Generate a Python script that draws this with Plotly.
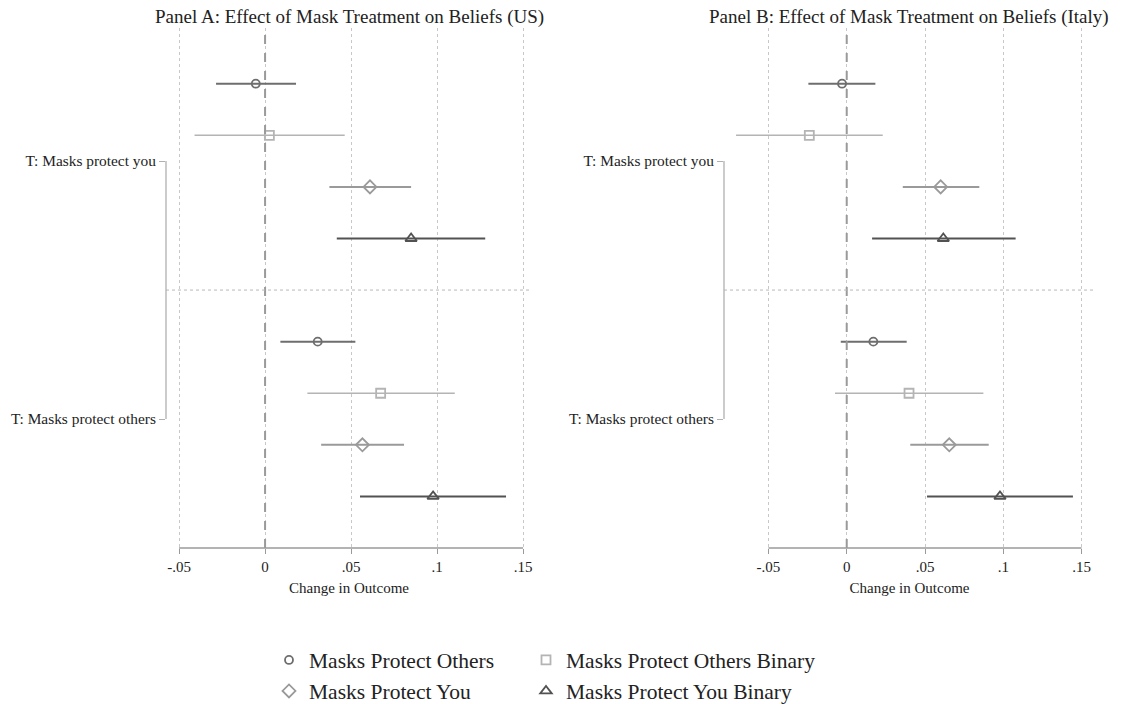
import plotly.graph_objects as go
import numpy as np

# ---------------- data ----------------
series_names = ["Masks Protect Others", "Masks Protect Others Binary",
                "Masks Protect You", "Masks Protect You Binary"]
group_labels = ["T: Masks protect you", "T: Masks protect others"]
panel_titles = ["Panel A: Effect of Mask Treatment on Beliefs (US)",
                "Panel B: Effect of Mask Treatment on Beliefs (Italy)"]
tick_vals = [-0.05, 0, 0.05, 0.1, 0.15]
tick_text = ["-.05", "0", ".05", ".1", ".15"]

# US: [treatment "you", treatment "others"] per series
us_est = [[-0.0054, 0.0306], [0.0025, 0.0672], [0.0610, 0.0566], [0.0849, 0.0977]]
us_lo = [[-0.0285, 0.0089], [-0.0410, 0.0246], [0.0374, 0.0326], [0.0417, 0.0552]]
us_hi = [[0.0180, 0.0525], [0.0463, 0.1103], [0.0849, 0.0808], [0.1280, 0.1401]]

# Italy
it_est = [[-0.0030, 0.0170], [-0.0239, 0.0398], [0.0600, 0.0655], [0.0617, 0.0979]]
it_lo = [[-0.0245, -0.0038], [-0.0707, -0.0075], [0.0358, 0.0406], [0.0162, 0.0513]]
it_hi = [[0.0183, 0.0383], [0.0230, 0.0873], [0.0847, 0.0907], [0.1079, 0.1445]]

# ---------------- style ----------------
W, H = 1127, 704
FONT = "Liberation Serif"
symbols = ["circle-open", "square-open", "diamond-open", "triangle-up-open"]
colors = ["#6e6e6e", "#b4b4b4", "#9a9a9a", "#525252"]
msizes = [8, 9, 10, 10]
ethick = [2, 1.6, 2, 2]

dom_px = [(166, 532), (724, 1095)]
ranges = [(-0.0576, 0.1552), (-0.0784, 0.1586)]
plot_top, plot_bot = 28, 548
# legend slots: (marker x px, row y px)
legend_pos = [(289, 660), (546, 660), (289, 691), (546, 691)]
legend_ids = ["legend", "legend2", "legend3", "legend4"]

fig = go.Figure()
panels = [(us_est, us_lo, us_hi), (it_est, it_lo, it_hi)]
for p, (est, lo, hi) in enumerate(panels):
    xa = "x" if p == 0 else "x2"
    ya = "y" if p == 0 else "y2"
    for s in range(4):
        e = np.array(est[s]); l = np.array(lo[s]); h = np.array(hi[s])
        fig.add_trace(go.Scatter(
            x=e, y=[1 + s, 6 + s], xaxis=xa, yaxis=ya, mode="markers",
            name=series_names[s], legendgroup=series_names[s],
            showlegend=(p == 0), legend=legend_ids[s],
            marker=dict(symbol=symbols[s], size=msizes[s], color=colors[s],
                        line=dict(width=1.8, color=colors[s])),
            error_x=dict(type="data", symmetric=False, array=h - e, arrayminus=e - l,
                         width=0, thickness=ethick[s], color=colors[s]),
            hoverinfo="skip"))

ydom = [1 - plot_bot / H, 1 - plot_top / H]
layout = dict(width=W, height=H, margin=dict(l=0, r=0, t=0, b=0, autoexpand=False),
              paper_bgcolor="white", plot_bgcolor="white",
              font=dict(family=FONT, color="#222222"))
for p in range(2):
    sfx = "" if p == 0 else "2"
    d0, d1 = dom_px[p]
    layout["xaxis" + sfx] = dict(
        domain=[d0 / W, d1 / W], range=list(ranges[p]), anchor="y" + sfx,
        tickvals=tick_vals, ticktext=tick_text, ticks="outside", ticklen=5,
        tickcolor="#9a9a9a", tickwidth=1.2, tickfont=dict(size=15, family=FONT),
        showgrid=True, gridcolor="#c8c8c8", griddash="dot", gridwidth=1,
        zeroline=False, showline=False,
        title=dict(text="Change in Outcome", font=dict(size=15, family=FONT), standoff=8),
        automargin=False, fixedrange=True)
    layout["yaxis" + sfx] = dict(
        domain=ydom, range=[10.0, -0.08], anchor="x" + sfx,
        tickvals=[2.5, 7.5], ticktext=group_labels, ticks="outside", ticklen=6,
        tickcolor="#b0b0b0", tickwidth=1.3, tickfont=dict(size=15.4, family=FONT),
        showgrid=False, zeroline=False, showline=False, automargin=False, fixedrange=True)

for i, lid in enumerate(legend_ids):
    mx, my = legend_pos[i]
    layout[lid] = dict(orientation="h", x=(mx - 20) / W, xanchor="left", y=1 - my / H,
                       yanchor="middle", font=dict(size=21.5, family=FONT, color="#222222"),
                       bgcolor="rgba(0,0,0,0)", itemclick=False, itemdoubleclick=False)

fig.update_layout(**layout)

shapes = []
annotations = []
for p in range(2):
    sfx = "" if p == 0 else "2"
    xr, yr = "x" + sfx, "y" + sfx
    # zero dashed line
    shapes.append(dict(type="line", xref=xr, yref=yr + " domain", x0=0, x1=0, y0=0, y1=1,
                       line=dict(color="#9a9a9a", width=2, dash="dash")))
    # group separator
    shapes.append(dict(type="line", xref=xr + " domain", yref=yr, x0=0, x1=1, y0=5, y1=5,
                       line=dict(color="#b8b8b8", width=1, dash="dot")))
    # bottom axis line over tick range
    shapes.append(dict(type="line", xref=xr, yref=yr + " domain", x0=tick_vals[0], x1=tick_vals[-1],
                       y0=0, y1=0, line=dict(color="#9a9a9a", width=1.3)))
    # bracket
    shapes.append(dict(type="line", xref=xr + " domain", yref=yr, x0=0, x1=0, y0=2.5, y1=7.5,
                       line=dict(color="#b0b0b0", width=1.3)))
    d0, d1 = dom_px[p]
    annotations.append(dict(text=panel_titles[p], xref="paper", yref="paper",
                            x=(d0 + d1) / 2 / W, y=1 - 17 / H, xanchor="center", yanchor="middle",
                            showarrow=False, font=dict(size=19, family=FONT, color="#222222")))

fig.update_layout(shapes=shapes, annotations=annotations)

fig.write_html("out.html", config={"displayModeBar": False})
